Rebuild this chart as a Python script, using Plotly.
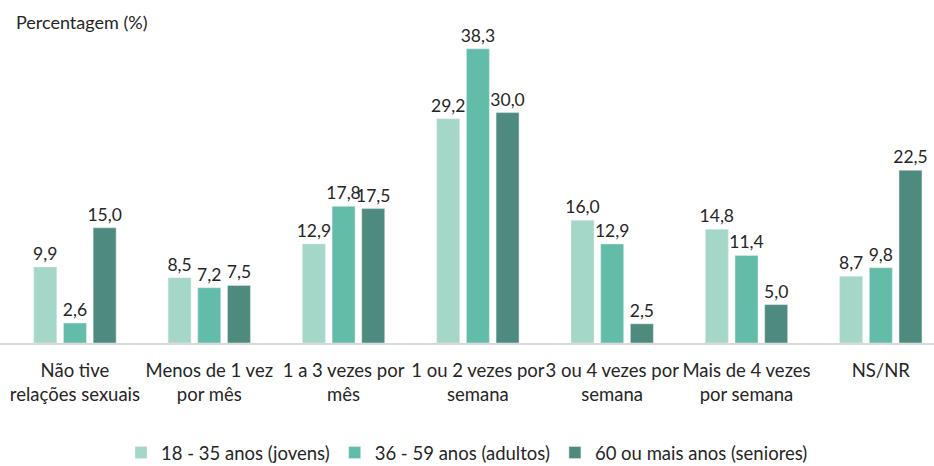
import plotly.graph_objects as go

categories = ["Não tive<br>relações sexuais", "Menos de 1 vez<br>por mês", "1 a 3 vezes por<br>mês",
              "1 ou 2 vezes por<br>semana", "3 ou 4 vezes por<br>semana", "Mais de 4 vezes<br>por semana", "NS/NR"]
series_names = ["18 - 35 anos (jovens)", "36 - 59 anos (adultos)", "60 ou mais anos (seniores)"]
jovens = [9.9, 8.5, 12.9, 29.2, 16.0, 14.8, 8.7]
adultos = [2.6, 7.2, 17.8, 38.3, 12.9, 11.4, 9.8]
seniores = [15.0, 7.5, 17.5, 30.0, 2.5, 5.0, 22.5]
colors = ["#a5d7c9", "#63bca8", "#4e8a7d"]

FONT = "Lato"
SIZE = 18.5
fig = go.Figure()
for name, vals, col in zip(series_names, [jovens, adultos, seniores], colors):
    fig.add_trace(go.Bar(
        x=list(range(len(categories))), y=vals, name=name, marker_color=col,
        text=[f"{v:.1f}".replace(".", ",") for v in vals],
        textposition="outside", cliponaxis=False, constraintext="none",
        textfont=dict(size=17.5, color="#262626", family=FONT),
    ))

fig.update_layout(
    width=934, height=466,
    margin=dict(l=0, r=0, t=20, b=123, autoexpand=False),
    paper_bgcolor="white", plot_bgcolor="white",
    barmode="group", bargap=0.337, bargroupgap=0.226,
    font=dict(family=FONT, size=SIZE, color="#262626"),
    xaxis=dict(tickmode="array", tickvals=list(range(len(categories))), ticktext=categories,
               range=[-0.558, 6.396], showline=True, linecolor="#d9d9d9", linewidth=1.5,
               ticks="", showgrid=False, zeroline=False, automargin=False, tickangle=0,
               ticklabelstandoff=10,
               tickfont=dict(size=SIZE, color="#262626", family=FONT)),
    yaxis=dict(range=[0, 42.06], visible=False, automargin=False),
    legend=dict(orientation="h", x=0.5, xanchor="center", y=(343 - 453) / 323, yanchor="middle",
                font=dict(size=SIZE, color="#262626", family=FONT), itemwidth=30,
                traceorder="normal"),
    showlegend=True,
)
fig.add_annotation(text="Percentagem (%)", x=14 / 934, xref="paper", xanchor="left",
                   y=1 + (20 - 22) / 323, yref="paper", yanchor="middle", showarrow=False,
                   font=dict(size=18, color="#262626", family=FONT))
fig.write_html("out.html", config={"displayModeBar": False},
               post_script="document.body.style.margin='0';document.body.style.overflow='hidden';")
